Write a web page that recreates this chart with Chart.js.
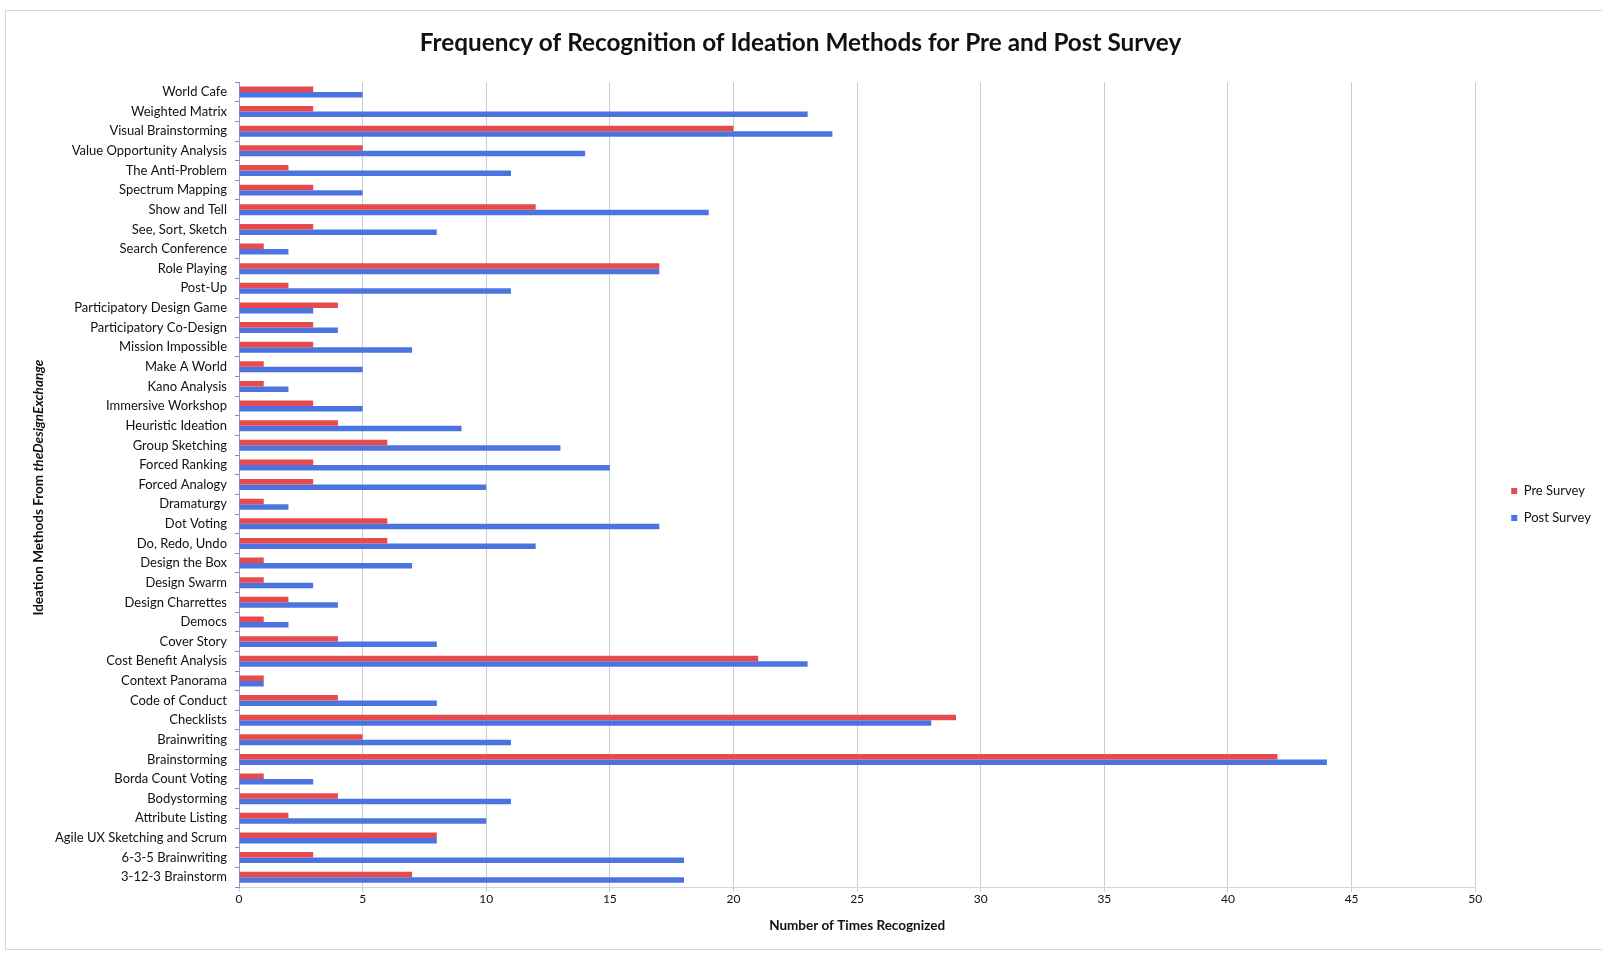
<!DOCTYPE html>
<html>
<head>
<meta charset="utf-8">
<title>Frequency of Recognition of Ideation Methods</title>
<script src="https://cdn.jsdelivr.net/npm/chart.js@4.4.1/dist/chart.umd.min.js"></script>
<style>
  html, body { margin: 0; padding: 0; background: #ffffff; }
  #wrap { position: relative; width: 1602px; height: 953px; }
  #frame {
    position: absolute; left: 5px; top: 10px; width: 1600px; height: 938px;
    border-left: 1px solid #d6d6d6; border-top: 1px solid #d6d6d6; border-bottom: 1px solid #d6d6d6;
    pointer-events: none;
  }
</style>
</head>
<body>
<div id="wrap">
  <canvas id="chart" width="1602" height="953"></canvas>
  <div id="frame"></div>
</div>
<script>
// Ideation methods, listed top to bottom
const methods = [
  'World Cafe', 'Weighted Matrix', 'Visual Brainstorming', 'Value Opportunity Analysis',
  'The Anti-Problem', 'Spectrum Mapping', 'Show and Tell', 'See, Sort, Sketch',
  'Search Conference', 'Role Playing', 'Post-Up', 'Participatory Design Game',
  'Participatory Co-Design', 'Mission Impossible', 'Make A World', 'Kano Analysis',
  'Immersive Workshop', 'Heuristic Ideation', 'Group Sketching', 'Forced Ranking',
  'Forced Analogy', 'Dramaturgy', 'Dot Voting', 'Do, Redo, Undo', 'Design the Box',
  'Design Swarm', 'Design Charrettes', 'Democs', 'Cover Story', 'Cost Benefit Analysis',
  'Context Panorama', 'Code of Conduct', 'Checklists', 'Brainwriting', 'Brainstorming',
  'Borda Count Voting', 'Bodystorming', 'Attribute Listing', 'Agile UX Sketching and Scrum',
  '6-3-5 Brainwriting', '3-12-3 Brainstorm'
];

// Number of respondents recognizing each method
const preSurvey = [
  3, 3, 20, 5, 2, 3, 12, 3, 1, 17, 2, 4, 3, 3, 1, 1, 3, 4, 6, 3, 3,
  1, 6, 6, 1, 1, 2, 1, 4, 21, 1, 4, 29, 5, 42, 1, 4, 2, 8, 3, 7
];
const postSurvey = [
  5, 23, 24, 14, 11, 5, 19, 8, 2, 17, 11, 3, 4, 7, 5, 2, 5, 9, 13, 15, 10,
  2, 17, 12, 7, 3, 4, 2, 8, 23, 1, 8, 28, 11, 44, 3, 11, 10, 8, 18, 18
];

const seriesNames = ['Pre Survey', 'Post Survey'];
const xTicks = [0, 5, 10, 15, 20, 25, 30, 35, 40, 45, 50];

const chartTitle = 'Frequency of Recognition of Ideation Methods for Pre and Post Survey';
const xTitle = 'Number of Times Recognized';
const yTitleParts = ['Ideation Methods From ', 'theDesignExchange'];

const FONT = 'Lato, "Open Sans", "DejaVu Sans", sans-serif';
const INK = '#111111';

// Rotated y-axis caption with the source name set in italics
const yCaption = {
  id: 'yCaption',
  afterDraw(chart) {
    const { ctx, chartArea } = chart;
    const cy = (chartArea.top + chartArea.bottom) / 2 + 3;
    ctx.save();
    ctx.translate(39, cy);
    ctx.rotate(-Math.PI / 2);
    ctx.fillStyle = INK;
    ctx.textBaseline = 'middle';
    const f1 = 'bold 13.5px ' + FONT;
    const f2 = 'italic bold 13.5px ' + FONT;
    ctx.font = f1;
    const w1 = ctx.measureText(yTitleParts[0]).width;
    ctx.font = f2;
    const w2 = ctx.measureText(yTitleParts[1]).width;
    const x = -(w1 + w2) / 2;
    ctx.textAlign = 'left';
    ctx.font = f1;
    ctx.fillText(yTitleParts[0], x, 0);
    ctx.font = f2;
    ctx.fillText(yTitleParts[1], x + w1, 0);
    ctx.restore();
  }
};

new Chart(document.getElementById('chart'), {
  type: 'bar',
  data: {
    labels: methods,
    datasets: [
      {
        label: seriesNames[0],
        data: preSurvey,
        backgroundColor: '#e74a4c',
        xAxisID: 'x',
        yAxisID: 'y'
      },
      {
        label: seriesNames[1],
        data: postSurvey,
        backgroundColor: '#4b74e0',
        xAxisID: 'x',
        yAxisID: 'y'
      }
    ]
  },
  options: {
    indexAxis: 'y',
    responsive: false,
    animation: false,
    devicePixelRatio: 1,
    layout: { padding: { left: 0, right: 1, top: 0, bottom: 0 } },
    datasets: {
      bar: { categoryPercentage: 0.56, barPercentage: 1.0, borderWidth: 0 }
    },
    scales: {
      x: {
        type: 'linear',
        position: 'bottom',
        min: 0,
        max: 50,
        afterBuildTicks(scale) {
          scale.ticks = xTicks.map(v => ({ value: v }));
        },
        afterFit(scale) { scale.height = 66; },
        grid: { color: '#c9cce0', lineWidth: 1, tickLength: 5, drawTicks: true },
        border: { display: true, color: '#d2d4e0' },
        ticks: {
          color: INK,
          font: { family: FONT, size: 12 },
          padding: 0
        },
        title: {
          display: true,
          text: xTitle,
          color: INK,
          font: { family: FONT, size: 13.5, weight: 'bold' },
          padding: { top: 0, bottom: 19 }
        }
      },
      y: {
        type: 'category',
        position: 'left',
        afterFit(scale) { scale.width = 239; },
        grid: {
          display: true,
          drawOnChartArea: false,
          offset: true,
          color: '#8c8c9c',
          tickLength: 4
        },
        border: { display: true, color: '#8d9ad6', width: 1 },
        ticks: {
          color: INK,
          font: { family: FONT, size: 13 },
          padding: 8,
          autoSkip: false
        }
      },
      // spacer between the plot area and the legend column
      gap: {
        type: 'linear',
        position: 'right',
        display: true,
        afterFit(scale) { scale.width = 22; },
        grid: { display: false },
        border: { display: false },
        ticks: { display: false }
      }
    },
    plugins: {
      title: {
        display: true,
        text: chartTitle,
        color: INK,
        font: { family: FONT, size: 24.3, weight: 'bold', lineHeight: 1.2 },
        padding: { top: 29, bottom: 24 }
      },
      legend: {
        display: true,
        position: 'right',
        title: {
          display: true,
          text: ' ',
          font: { size: 1 },
          padding: { top: 27, bottom: 28 }
        },
        labels: {
          boxWidth: 6,
          boxHeight: 6,
          padding: 14,
          color: INK,
          font: { family: FONT, size: 13 }
        }
      },
      tooltip: { enabled: false }
    }
  },
  plugins: [yCaption]
});
</script>
</body>
</html>
